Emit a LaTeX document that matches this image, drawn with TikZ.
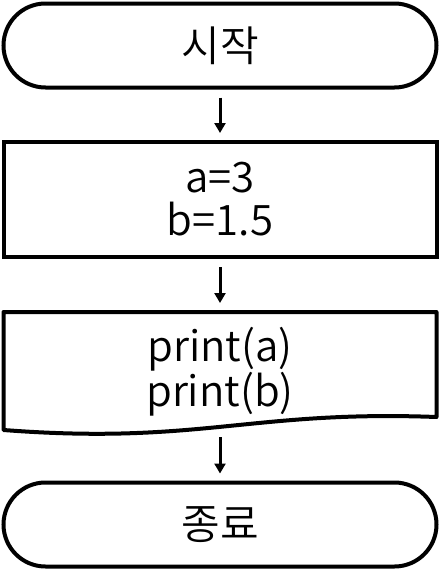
\documentclass[tikz,border=0pt]{standalone}
\usepackage{fontspec}
\setmainfont{Noto Sans CJK KR}[UprightFont=* DemiLight]
\usetikzlibrary{arrows.meta}
\tikzset{
  box/.style={draw, line width=4pt, outer sep=0pt, minimum width=433pt, align=center,
    font=\fontsize{42}{43}\selectfont, inner sep=0pt},
  term/.style={box, rounded corners=42pt, minimum height=84pt},
  procbox/.style={box, minimum height=115pt},
  docbox/.style={box, draw=none, minimum height=90pt},
  arr/.style={line width=3pt, -{Triangle[width=11pt,length=10pt]}, shorten >=9pt, shorten <=10pt},
  docline/.style={line width=4pt, line join=round}
}
\begin{document}
\begin{tikzpicture}[x=1pt,y=-1pt]
\useasboundingbox (0,0) rectangle (440,570);
\node[term] (start) at (220,45.5) {시작};
\node[procbox] (calc) at (220,199.5) {a=3\\b=1.5};
\node[docbox] (doc) at (220,372) {print(a)\\print(b)};
\draw[docline] (3.5,430) -- (3.5,312) -- (436.5,312) -- (436.5,417)
  .. controls (250,410) and (200,445) .. cycle;
\node[term] (stop) at (220,524.5) {종료};
\draw[arr] (start) -- (calc);
\draw[arr, shorten >=9pt] (calc) -- (doc.north |- 0,312);
\draw[arr, shorten <=20pt] (doc) -- (stop);
\end{tikzpicture}
\end{document}
